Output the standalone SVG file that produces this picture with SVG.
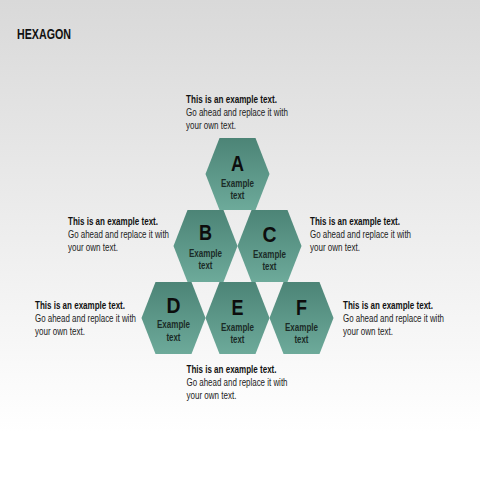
<svg xmlns="http://www.w3.org/2000/svg" width="480" height="480" viewBox="0 0 480 480">
<defs>
<linearGradient id="bg" x1="0" y1="0" x2="0" y2="1">
<stop offset="0" stop-color="#d9d9d9"/>
<stop offset="0.9" stop-color="#ffffff"/>
<stop offset="1" stop-color="#ffffff"/>
</linearGradient>
<linearGradient id="hex" x1="0" y1="0" x2="0" y2="1">
<stop offset="0" stop-color="#4c8476"/>
<stop offset="1" stop-color="#6daa9a"/>
</linearGradient>
<polygon id="hx" points="-32,0 -18,-36 18,-36 32,0 18,36 -18,36"/>
</defs>
<style>
.hexs{fill:url(#hex);}
.let{font-family:"Liberation Sans",Arial,sans-serif;font-weight:bold;font-size:22px;fill:#0d0d0d;text-anchor:middle;}
.lab{font-family:"Liberation Sans",Arial,sans-serif;font-weight:bold;font-size:10px;fill:#1b2b27;text-anchor:middle;}
.h{font-family:"Liberation Sans",Arial,sans-serif;font-weight:bold;font-size:10px;fill:#111;}
.b{font-family:"Liberation Sans",Arial,sans-serif;font-size:10px;fill:#222;}
.title{font-family:"Liberation Sans",Arial,sans-serif;font-weight:bold;font-size:14px;fill:#111;}
</style>
<rect x="0" y="0" width="480" height="480" fill="url(#bg)"/>
<text class="title" x="17" y="39" textLength="54" lengthAdjust="spacingAndGlyphs">HEXAGON</text>

<g id="connectors"></g>

<g id="node-A">
<use href="#hx" class="hexs" transform="translate(237.5,174)"/>
<text class="let" x="237.5" y="171" textLength="13" lengthAdjust="spacingAndGlyphs">A</text>
<text class="lab" x="237.5" y="187" textLength="33" lengthAdjust="spacingAndGlyphs">Example</text>
<text class="lab" x="237.5" y="199" textLength="14" lengthAdjust="spacingAndGlyphs">text</text>
</g>
<g id="node-B">
<use href="#hx" class="hexs" transform="translate(205.5,246)"/>
<text class="let" x="205.5" y="240" textLength="13" lengthAdjust="spacingAndGlyphs">B</text>
<text class="lab" x="205.5" y="257" textLength="33" lengthAdjust="spacingAndGlyphs">Example</text>
<text class="lab" x="205.5" y="269" textLength="14" lengthAdjust="spacingAndGlyphs">text</text>
</g>
<g id="node-C">
<use href="#hx" class="hexs" transform="translate(269.5,246)"/>
<text class="let" x="269.5" y="242" textLength="14" lengthAdjust="spacingAndGlyphs">C</text>
<text class="lab" x="269.5" y="258" textLength="33" lengthAdjust="spacingAndGlyphs">Example</text>
<text class="lab" x="269.5" y="270" textLength="14" lengthAdjust="spacingAndGlyphs">text</text>
</g>
<g id="node-D">
<use href="#hx" class="hexs" transform="translate(173.5,318)"/>
<text class="let" x="173.5" y="313" textLength="14" lengthAdjust="spacingAndGlyphs">D</text>
<text class="lab" x="173.5" y="328" textLength="33" lengthAdjust="spacingAndGlyphs">Example</text>
<text class="lab" x="173.5" y="341" textLength="14" lengthAdjust="spacingAndGlyphs">text</text>
</g>
<g id="node-E">
<use href="#hx" class="hexs" transform="translate(237.5,318)"/>
<text class="let" x="237.5" y="315" textLength="12" lengthAdjust="spacingAndGlyphs">E</text>
<text class="lab" x="237.5" y="331" textLength="33" lengthAdjust="spacingAndGlyphs">Example</text>
<text class="lab" x="237.5" y="343" textLength="14" lengthAdjust="spacingAndGlyphs">text</text>
</g>
<g id="node-F">
<use href="#hx" class="hexs" transform="translate(301.5,318)"/>
<text class="let" x="301.5" y="315" textLength="11" lengthAdjust="spacingAndGlyphs">F</text>
<text class="lab" x="301.5" y="331" textLength="33" lengthAdjust="spacingAndGlyphs">Example</text>
<text class="lab" x="301.5" y="343" textLength="14" lengthAdjust="spacingAndGlyphs">text</text>
</g>

<g id="desc-top">
<text class="h" x="186" y="103" textLength="91" lengthAdjust="spacingAndGlyphs">This is an example text.</text>
<text class="b" x="186" y="116" textLength="102" lengthAdjust="spacingAndGlyphs">Go ahead and replace it with</text>
<text class="b" x="186" y="129" textLength="50" lengthAdjust="spacingAndGlyphs">your own text.</text>
</g>
<g id="desc-left-upper">
<text class="h" x="68" y="224.5" textLength="90" lengthAdjust="spacingAndGlyphs">This is an example text.</text>
<text class="b" x="68" y="237.5" textLength="101" lengthAdjust="spacingAndGlyphs">Go ahead and replace it with</text>
<text class="b" x="68" y="250.5" textLength="50" lengthAdjust="spacingAndGlyphs">your own text.</text>
</g>
<g id="desc-right-upper">
<text class="h" x="310" y="224.5" textLength="90" lengthAdjust="spacingAndGlyphs">This is an example text.</text>
<text class="b" x="310" y="237.5" textLength="101" lengthAdjust="spacingAndGlyphs">Go ahead and replace it with</text>
<text class="b" x="310" y="250.5" textLength="50" lengthAdjust="spacingAndGlyphs">your own text.</text>
</g>
<g id="desc-left-lower">
<text class="h" x="35" y="308.5" textLength="90" lengthAdjust="spacingAndGlyphs">This is an example text.</text>
<text class="b" x="35" y="321.5" textLength="101" lengthAdjust="spacingAndGlyphs">Go ahead and replace it with</text>
<text class="b" x="35" y="334.5" textLength="50" lengthAdjust="spacingAndGlyphs">your own text.</text>
</g>
<g id="desc-right-lower">
<text class="h" x="343" y="308.5" textLength="90" lengthAdjust="spacingAndGlyphs">This is an example text.</text>
<text class="b" x="343" y="321.5" textLength="101" lengthAdjust="spacingAndGlyphs">Go ahead and replace it with</text>
<text class="b" x="343" y="334.5" textLength="50" lengthAdjust="spacingAndGlyphs">your own text.</text>
</g>
<g id="desc-bottom">
<text class="h" x="186.5" y="372.5" textLength="90" lengthAdjust="spacingAndGlyphs">This is an example text.</text>
<text class="b" x="186.5" y="385.5" textLength="101" lengthAdjust="spacingAndGlyphs">Go ahead and replace it with</text>
<text class="b" x="186.5" y="398.5" textLength="50" lengthAdjust="spacingAndGlyphs">your own text.</text>
</g>
</svg>
